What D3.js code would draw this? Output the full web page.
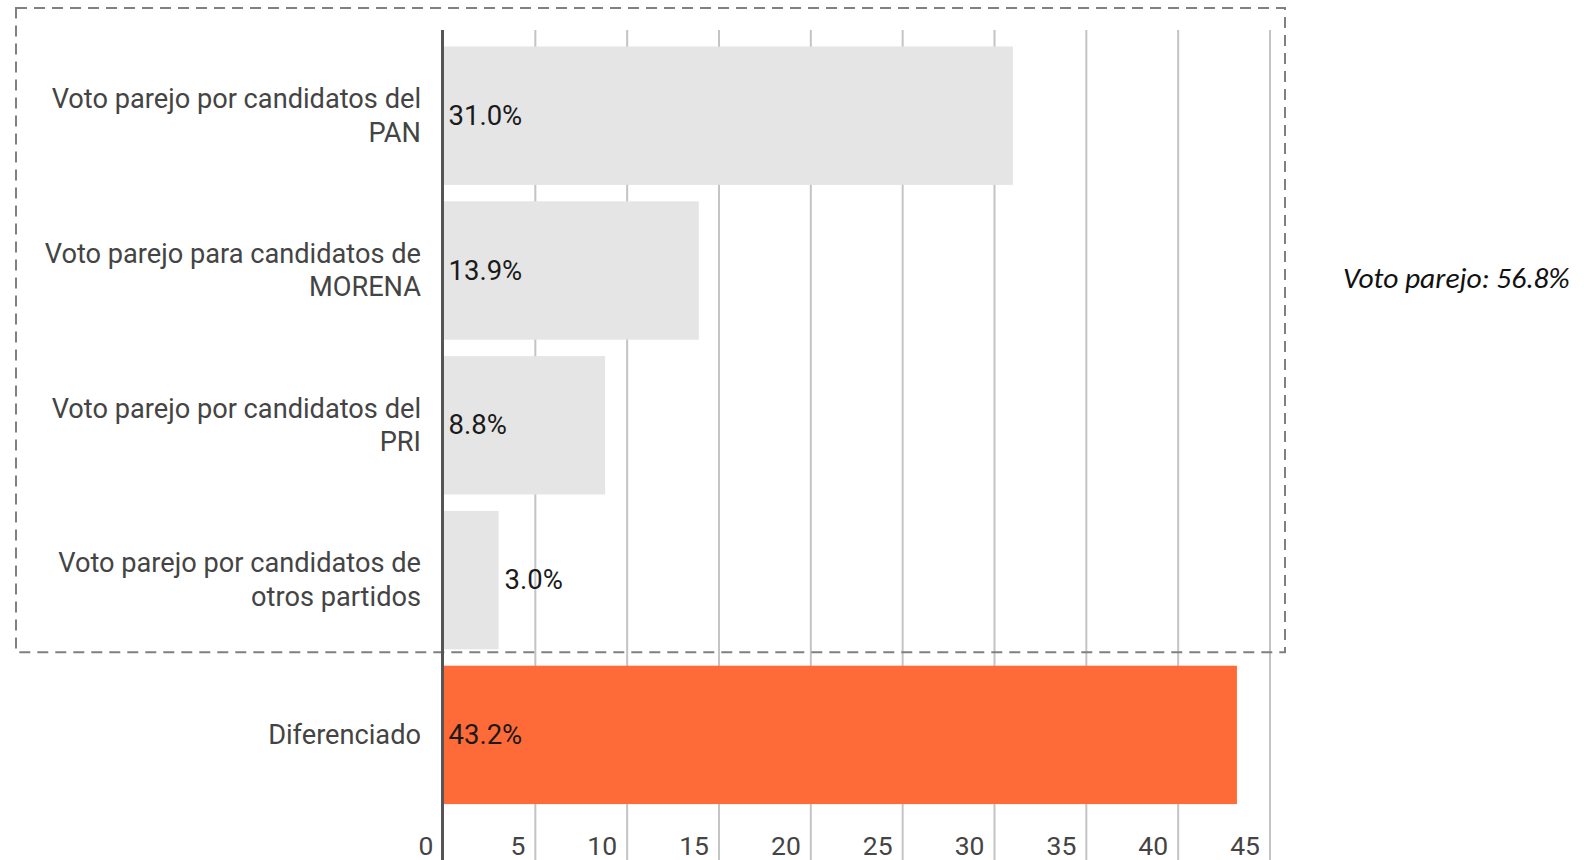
<!DOCTYPE html>
<html>
<head>
<meta charset="utf-8">
<script src="https://cdn.jsdelivr.net/npm/d3@7"></script>
<style>
  html, body { margin: 0; padding: 0; background: #fff; overflow: hidden; }
  svg { display: block; }
</style>
</head>
<body>
<svg id="viz" width="1584" height="860"></svg>
<script>
// Data

var categories = [
	["Voto parejo por candidatos del", "PAN"],
	["Voto parejo para candidatos de", "MORENA"],
	["Voto parejo por candidatos del", "PRI"],
	["Voto parejo por candidatos de", "otros partidos"],
	["Diferenciado"]
];
var values = [31.0, 13.9, 8.8, 3.0, 43.2];
var barColors = ["#e5e5e5", "#e5e5e5", "#e5e5e5", "#e5e5e5", "#ff6b38"];
var ticks = [0, 5, 10, 15, 20, 25, 30, 35, 40, 45];
var note = "Voto parejo: 56.8%";

var svg = d3.select("#viz");
var font = "Roboto, 'Noto Sans', sans-serif";

// Scales

var x = d3.scaleLinear()
	.domain([0, 45])
	.range([443.5, 1270]);

var y = d3.scaleBand()
	.domain(d3.range(values.length))
	.range([38.3, 812.3])
	.paddingInner(0.106)
	.paddingOuter(0.053);

// Gridlines

svg.append("g")
	.attr("class", "grid")
	.selectAll("line")
	.data(ticks.slice(1))
	.enter()
	.append("line")
	.attr("x1", d => x(d))
	.attr("x2", d => x(d))
	.attr("y1", 30)
	.attr("y2", 860)
	.style("stroke", "#c4c4c4")
	.style("stroke-width", 2);

// Bars

svg.append("g")
	.attr("class", "bars")
	.selectAll("rect")
	.data(values)
	.enter()
	.append("rect")
	.attr("x", x(0))
	.attr("y", (d, i) => y(i))
	.attr("width", d => x(d) - x(0))
	.attr("height", y.bandwidth())
	.attr("fill", (d, i) => barColors[i]);

// Dashed frame around the "voto parejo" group

var boxBottom = y(3) + y.bandwidth() + 3;
svg.append("rect")
	.attr("x", 16)
	.attr("y", 8)
	.attr("width", 1285 - 16)
	.attr("height", boxBottom - 8)
	.attr("fill", "none")
	.style("stroke", "#808080")
	.style("stroke-width", 2)
	.style("stroke-dasharray", "11,7");

// Zero axis line

svg.append("line")
	.attr("x1", x(0) - 1)
	.attr("x2", x(0) - 1)
	.attr("y1", 30)
	.attr("y2", 860)
	.style("stroke", "#555")
	.style("stroke-width", 3);

// Category labels

var cat = svg.append("g")
	.attr("class", "cats")
	.selectAll("text")
	.data(categories)
	.enter()
	.append("text")
	.attr("text-anchor", "end")
	.attr("font-family", font)
	.attr("font-size", 27.2)
	.attr("fill", "#444")
	.attr("y", (d, i) => y(i) + y.bandwidth() / 2);

cat.selectAll("tspan")
	.data(d => d)
	.enter()
	.append("tspan")
	.attr("x", 421)
	.attr("dy", (d, j, nodes) => {
		var n = nodes.length;
		return j == 0 ? ((9 - (n - 1) * 16.7) + "px") : "33.5px";
	})
	.text(d => d);

// Value labels

svg.append("g")
	.attr("class", "values")
	.selectAll("text")
	.data(values)
	.enter()
	.append("text")
	.attr("font-family", font)
	.attr("font-size", 27.5)
	.attr("fill", "#1a1a1a")
	.attr("y", (d, i) => y(i) + y.bandwidth() / 2 + 9)
	.text(d => d.toFixed(1) + "%")
	.attr("x", function(d) {
		var w = this.getComputedTextLength();
		if (x(d) - x(0) > w + 12)
			return x(0) + 5;
		else
			return x(d) + 6;
	});

// Tick labels

svg.append("g")
	.attr("class", "ticks")
	.selectAll("text")
	.data(ticks)
	.enter()
	.append("text")
	.attr("text-anchor", "end")
	.attr("font-family", font)
	.attr("font-size", 26.5)
	.attr("fill", "#444")
	.attr("x", d => x(d) - 10)
	.attr("y", 855)
	.text(d => d);

// Side note

svg.append("text")
	.attr("x", 1343)
	.attr("y", 288)
	.attr("font-family", "Carlito, Lato, 'Open Sans', sans-serif")
	.attr("font-style", "italic")
	.attr("font-size", 29.5)
	.attr("fill", "#111")
	.text(note);
</script>
</body>
</html>
